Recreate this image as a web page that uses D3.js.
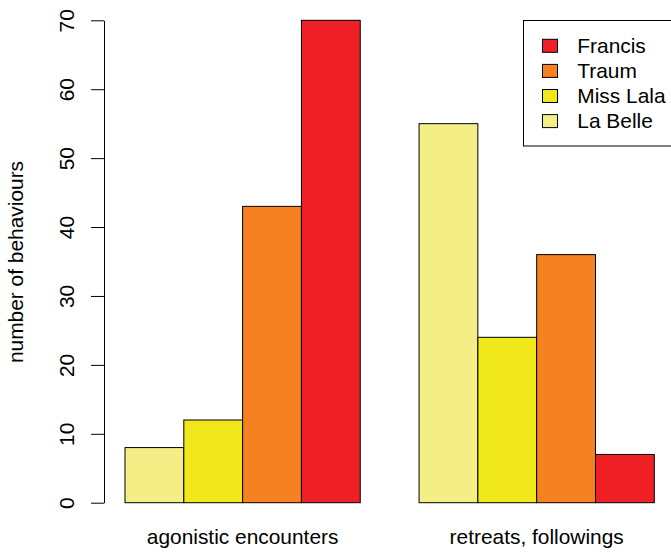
<!DOCTYPE html>
<html>
<head>
<meta charset="utf-8">
<script src="https://cdn.jsdelivr.net/npm/d3@7"></script>
<style>
  html, body { margin: 0; padding: 0; background: #fff; }
  svg { display: block; }
  text { font-family: "Liberation Sans", Arial, Helvetica, sans-serif; fill: #000; }
</style>
</head>
<body>
<svg id="chart" width="671" height="555"></svg>
<script>
// Behaviour counts per individual, grouped by behaviour type
const groups = ["agonistic encounters", "retreats, followings"];
const individuals = ["La Belle", "Miss Lala", "Traum", "Francis"];
const agonistic = [8, 12, 43, 70];
const retreats = [55, 24, 36, 7];
const colors = ["#f4ee87", "#f0e81a", "#f58120", "#ee2025"];
const yTicks = [0, 10, 20, 30, 40, 50, 60, 70];
const yLabel = "number of behaviours";

const seriesByGroup = [agonistic, retreats];

const svg = d3.select("#chart");
const fontSize = 20.9;

// Bars sit at unit positions 1..10 with one empty slot between the groups
const x = d3.scaleLinear().domain([1, 10]).range([125, 654.3]);
const y = d3.scaleLinear().domain([0, 70]).range([502.7, 20.3]);

const bars = [];
seriesByGroup.forEach((vals, g) => {
  vals.forEach((v, i) => {
    const start = 1 + g * 5 + i;
    bars.push({ g, i, v, x0: start, x1: start + 1 });
  });
});

svg.append("g")
  .selectAll("rect")
  .data(bars)
  .join("rect")
  .attr("x", d => x(d.x0))
  .attr("width", d => x(d.x1) - x(d.x0))
  .attr("y", d => y(d.v))
  .attr("height", d => y(0) - y(d.v))
  .attr("fill", d => colors[d.i])
  .attr("stroke", "#000")
  .attr("stroke-width", 1);

// Y axis with rotated tick labels
const axisX = 104;
const yAxis = svg.append("g").attr("transform", `translate(${axisX},0)`)
  .call(d3.axisLeft(y).tickValues(yTicks).tickSize(13).tickSizeOuter(0).tickFormat(d3.format("d")));
yAxis.select(".domain").attr("stroke", "#000").attr("stroke-width", 1);
yAxis.selectAll(".tick line").attr("stroke", "#000").attr("stroke-width", 1);
yAxis.selectAll(".tick text")
  .attr("x", null).attr("dy", null)
  .attr("transform", "translate(-30.5,0) rotate(-90)")
  .attr("text-anchor", "middle")
  .style("font-size", fontSize + "px")
  .style("font-family", '"Liberation Sans", Arial, sans-serif')
  .attr("fill", "#000");

// Y axis title
svg.append("text")
  .attr("transform", `translate(23,${(y(0) + y(70)) / 2 + 0.5}) rotate(-90)`)
  .attr("text-anchor", "middle")
  .style("font-size", fontSize + "px")
  .text(yLabel);

// Group labels under each cluster of bars
svg.append("g")
  .selectAll("text")
  .data(groups)
  .join("text")
  .attr("x", (d, g) => (x(1 + g * 5) + x(5 + g * 5)) / 2)
  .attr("y", 544)
  .attr("text-anchor", "middle")
  .style("font-size", fontSize + "px")
  .text(d => d);

// Legend, listed top-down from the last series
const legendOrder = individuals.map((name, i) => ({ name, i })).reverse();
const legend = svg.append("g");
legend.append("rect")
  .attr("x", 523.5).attr("y", 20.5)
  .attr("width", 200).attr("height", 125.5)
  .attr("fill", "#fff").attr("stroke", "#000").attr("stroke-width", 1);
const rows = legend.selectAll("g.row")
  .data(legendOrder)
  .join("g")
  .attr("class", "row")
  .attr("transform", (d, k) => `translate(0,${45.8 + k * 25.1})`);
rows.append("rect")
  .attr("x", 542.5).attr("y", -6.5)
  .attr("width", 15).attr("height", 13)
  .attr("fill", d => colors[d.i])
  .attr("stroke", "#000").attr("stroke-width", 1);
rows.append("text")
  .attr("x", 577.3).attr("y", 7.3)
  .style("font-size", fontSize + "px")
  .text(d => d.name);
</script>
</body>
</html>
